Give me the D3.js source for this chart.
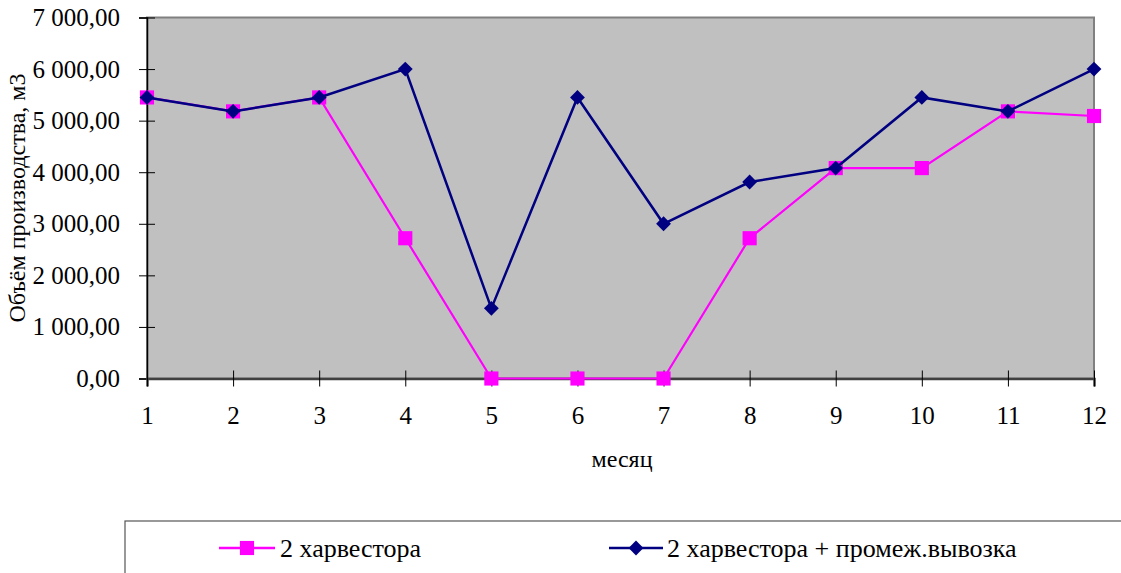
<!DOCTYPE html>
<html><head><meta charset="utf-8">
<script src="https://cdn.jsdelivr.net/npm/d3@7"></script>
<style>body{margin:0;background:#fff;} svg text{font-family:'Times New Roman','Liberation Serif','DejaVu Serif',serif !important;}</style>
</head><body>
<svg id="c" width="1121" height="573"></svg>
<script>
const months = ["1","2","3","4","5","6","7","8","9","10","11","12"];
const seriesNames = ["2 харвестора", "2 харвестора + промеж.вывозка"];
const harvesters = [5450, 5180, 5450, 2720, 0, 0, 0, 2720, 4080, 4080, 5180, 5090];
const harvestersHaul = [5450, 5180, 5450, 6000, 1360, 5450, 3000, 3810, 4080, 5450, 5180, 6000];
const yTicks = [0, 1000, 2000, 3000, 4000, 5000, 6000, 7000];
const yTitle = "Объём производства, м3";
const xTitle = "месяц";

const svg = d3.select("#c");
const L = 147, R = 1094, T = 17.5, B = 378.5;
const x = d3.scalePoint().domain(months).range([L, R]).padding(0);
const y = d3.scaleLinear().domain([0, 7000]).range([B, T]);
const fmt = v => d3.format(",.2f")(v).replace(/,/g, " ").replace(".", ",");
const FS = 25;

svg.append("rect").attr("x", L).attr("y", T).attr("width", R - L).attr("height", B - T)
  .attr("fill", "#C0C0C0").attr("stroke", "#808080").attr("stroke-width", 2);

// Y axis
const ya = svg.append("g").attr("transform", `translate(${L},0)`)
  .call(d3.axisLeft(y).tickValues(yTicks).tickFormat(fmt).tickSize(8).tickPadding(19));
ya.select(".domain").attr("stroke", "#000").attr("stroke-width", 1.5);
ya.selectAll(".tick line").attr("x2", 8).attr("x1", -8).attr("stroke", "#000");
ya.selectAll(".tick text").attr("font-size", FS).attr("fill", "#000");

// X axis
const xa = svg.append("g").attr("transform", `translate(0,${B})`)
  .call(d3.axisBottom(x).tickSize(8).tickPadding(20));
xa.select(".domain").attr("stroke", "#404040").attr("stroke-width", 2.5);
xa.selectAll(".tick line").attr("y1", -8).attr("y2", 8).attr("stroke", "#000");
xa.selectAll(".tick text").attr("font-size", FS).attr("fill", "#000");

// titles
svg.append("text").attr("transform", "translate(25,198) rotate(-90)").attr("text-anchor", "middle")
  .attr("font-size", 24).text(yTitle);
svg.append("text").attr("x", 622).attr("y", 467).attr("text-anchor", "middle")
  .attr("font-size", 24).text(xTitle);

const line = d3.line().x((d, i) => x(months[i])).y(d => y(d));
const sq = d3.symbol().type(d3.symbolSquare).size(200);
const dm = d3.symbol().type(d3.symbolSquare).size(110);

// magenta series
svg.append("path").datum(harvesters).attr("d", line).attr("fill", "none")
  .attr("stroke", "#FF00FF").attr("stroke-width", 2.2);
svg.selectAll(".m1").data(harvesters).join("path").attr("class", "m1")
  .attr("d", sq).attr("transform", (d, i) => `translate(${x(months[i])},${y(d)})`).attr("fill", "#FF00FF");

// navy series
svg.append("path").datum(harvestersHaul).attr("d", line).attr("fill", "none")
  .attr("stroke", "#000080").attr("stroke-width", 2.5);
svg.selectAll(".m2").data(harvestersHaul).join("path").attr("class", "m2")
  .attr("d", dm)
  .attr("transform", (d, i) => `translate(${x(months[i])},${y(d)}) rotate(45)`).attr("fill", "#000080");

// legend
svg.append("rect").attr("x", 125).attr("y", 521).attr("width", 1010).attr("height", 70)
  .attr("fill", "#fff").attr("stroke", "#555").attr("stroke-width", 1.2);
const lg = [{x1: 219, x2: 275, c: "#FF00FF", t: 280, name: seriesNames[0], shape: "sq"},
            {x1: 609, x2: 663, c: "#000080", t: 667, name: seriesNames[1], shape: "dm"}];
lg.forEach(o => {
  svg.append("line").attr("x1", o.x1).attr("x2", o.x2).attr("y1", 548).attr("y2", 548)
    .attr("stroke", o.c).attr("stroke-width", 2.5);
  const cx = (o.x1 + o.x2) / 2;
  if (o.shape === "sq") svg.append("path").attr("d", sq).attr("transform", `translate(${cx},548)`).attr("fill", o.c);
  else svg.append("path").attr("d", dm).attr("transform", `translate(${cx},548) rotate(45)`).attr("fill", o.c);
  svg.append("text").attr("x", o.t).attr("y", 557).attr("font-size", 26).text(o.name);
});
</script>
</body></html>
